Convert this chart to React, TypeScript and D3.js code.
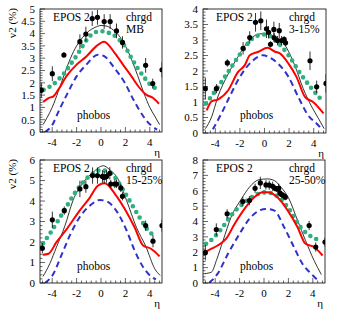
import React from "react";
import * as d3 from "d3";

// ---------- data ----------
const panelTitles = ["MB", "3-15%", "15-25%", "25-50%"];
const yMaxes = [5, 4, 6, 8];

// measured points (phobos)
const ptsEta1 = [-4.89, -3.99, -3.04, -1.73, -1.24, -0.72, -0.29, 0.26, 0.75, 1.27, 1.76, 3.66, 4.24, 5.0];
const ptsV1 = [1.7, 2.37, 3.13, 3.67, 3.98, 4.61, 4.66, 4.49, 4.49, 4.11, 3.64, 2.71, 1.97, 2.53];
const ptsErr1 = [0.3, 0.3, 0.12, 0.3, 0.3, 0.3, 0.3, 0.3, 0.3, 0.3, 0.25, 0.3, 0.2, 0.3];

const ptsEta2 = [-4.81, -3.91, -3.02, -1.74, -1.2, -0.73, -0.3, 0.16, 0.33, 0.49, 0.76, 0.79, 1.06, 1.2, 1.39, 1.6, 1.71, 3.7, 4.24, 5.0];
const ptsV2 = [1.43, 1.43, 2.26, 2.73, 3.08, 3.57, 3.62, 3.36, 3.25, 2.86, 3.34, 3.07, 2.98, 3.3, 2.98, 3.02, 2.91, 2.33, 1.49, 1.6];
const ptsErr2 = [0.35, 0.15, 0.12, 0.2, 0.2, 0.3, 0.3, 0.3, 0.2, 0.1, 0.25, 0.15, 0.15, 0.25, 0.15, 0.1, 0.1, 0.3, 0.2, 0.3];

const ptsEta3 = [-4.81, -3.99, -3.01, -1.73, -1.24, -0.69, -0.29, 0.12, 0.26, 0.45, 0.72, 0.8, 1.13, 1.27, 1.62, 1.76, 3.66, 4.26, 5.0];
const ptsV3 = [1.7, 3.08, 3.53, 4.59, 4.7, 5.24, 5.24, 5.2, 5.15, 5.2, 5.35, 4.83, 4.83, 4.83, 4.64, 4.23, 2.8, 2.04, 2.8];
const ptsErr3 = [0.25, 0.4, 0.2, 0.4, 0.3, 0.4, 0.4, 0.3, 0.3, 0.3, 0.3, 0.2, 0.2, 0.2, 0.2, 0.2, 0.25, 0.3, 0.3];

const ptsEta4 = [-4.81, -3.91, -3.02, -1.74, -1.2, -0.73, -0.3, 0.16, 0.43, 0.71, 0.9, 1.06, 1.2, 1.3, 1.44, 1.6, 1.74, 3.7, 4.24, 5.0];
const ptsV4 = [1.97, 3.48, 4.5, 5.3, 5.36, 6.16, 6.51, 6.38, 6.36, 6.29, 6.16, 6.11, 6.16, 5.86, 5.75, 5.69, 5.58, 3.74, 2.34, 2.66];
const ptsErr4 = [0.5, 0.4, 0.3, 0.3, 0.3, 0.3, 0.4, 0.3, 0.3, 0.3, 0.2, 0.2, 0.3, 0.2, 0.2, 0.2, 0.2, 0.3, 0.3, 0.3];

// EPOS 2 thin black curve
const blackEta1 = [-4.75, -4.4, -4, -3.5, -3, -2.5, -2, -1.5, -1, -0.5, 0, 0.5, 1, 1.5, 2, 2.5, 3, 3.5, 4, 4.4, 4.8];
const blackV1 = [0.3, 0.6, 1.0, 1.65, 2.35, 3.0, 3.5, 3.85, 4.1, 4.25, 4.33, 4.3, 4.15, 3.9, 3.5, 2.95, 2.3, 1.6, 1.0, 0.65, 0.3];
const blackEta2 = [-4.8, -4.3, -3.8, -3, -2.15, -1.35, -0.5, 0.15, 0.85, 1.65, 2.45, 3.15, 3.85, 4.4, 4.85];
const blackV2 = [0.14, 0.52, 1.16, 1.87, 2.46, 2.94, 3.19, 3.21, 3.1, 2.84, 2.19, 1.43, 0.84, 0.46, 0.14];
const blackEta3 = [-4.75, -4.2, -3.65, -2.95, -2.3, -1.45, -0.65, 0.2, 0.7, 1.4, 2.1, 2.9, 3.7, 4.4, 4.85];
const blackV3 = [0.32, 0.94, 1.75, 2.8, 4.02, 4.91, 5.4, 5.72, 5.53, 5.07, 4.02, 2.72, 1.75, 0.7, 0.37];
const blackEta4 = [-4.85, -4.3, -3.9, -3.35, -2.7, -1.85, -1.2, -0.4, 0.3, 0.85, 1.4, 2.05, 2.75, 3.4, 4.1, 4.7];
const blackV4 = [0.61, 0.71, 1.47, 2.77, 4.28, 5.47, 6.23, 6.72, 6.77, 6.66, 6.23, 5.47, 4.07, 2.77, 1.47, 0.55];

// green dotted curve
const greenEta1 = [-4.7, -4.4, -4, -3.5, -3, -2.5, -2, -1.5, -1, -0.5, 0, 0.5, 1, 1.5, 2, 2.5, 3, 3.5, 4, 4.4, 4.7];
const greenV1 = [1.72, 1.8, 1.9, 2.13, 2.4, 2.75, 3.1, 3.5, 3.85, 4.05, 4.1, 4.05, 3.95, 3.75, 3.45, 3.0, 2.6, 2.25, 1.95, 1.8, 1.72];
const greenEta2 = [-4.75, -4.05, -2.95, -1.85, -0.8, 0.05, 0.85, 1.95, 3.0, 3.85, 4.65];
const greenV2 = [0.95, 1.33, 1.97, 2.62, 3.1, 3.18, 3.0, 2.51, 1.87, 1.43, 1.06];
const greenEta3 = [-4.75, -4.2, -3.1, -2.0, -0.9, 0.05, 1.0, 2.1, 3.15, 4.0, 4.55];
const greenV3 = [1.94, 2.4, 3.45, 4.51, 5.24, 5.51, 5.24, 4.26, 3.21, 2.48, 2.27];
const greenEta4 = [-4.75, -4.2, -3.5, -2.7, -1.6, -0.5, 0.15, 1.0, 1.95, 3.0, 3.95, 4.65];
const greenV4 = [2.55, 2.88, 3.52, 4.39, 5.25, 5.79, 5.9, 5.69, 4.93, 3.63, 2.98, 2.77];

// red solid curve
const redEta1 = [-4.75, -4.3, -3.9, -3.5, -2.8, -2, -1.2, -0.4, 0.25, 1.1, 1.8, 2.5, 3.05, 3.7, 4.25, 4.75];
const redV1 = [1.22, 1.38, 1.45, 1.72, 2.29, 2.74, 3.07, 3.48, 3.67, 3.23, 2.74, 2.26, 1.86, 1.52, 1.39, 1.15];
const redEta2 = [-4.7, -4.3, -3.8, -2.95, -2.15, -1.6, -1.2, -0.5, 0.25, 0.85, 1.25, 1.95, 2.6, 3.3, 3.95, 4.8];
const redV2 = [0.73, 1.02, 1.08, 1.38, 1.97, 2.19, 2.51, 2.62, 2.75, 2.62, 2.57, 2.24, 1.81, 1.16, 1.0, 0.63];
const redEta3 = [-4.78, -4.3, -3.65, -2.8, -1.75, -0.9, -0.25, 0.3, 1.15, 1.95, 2.75, 3.45, 4.1, 4.8];
const redV3 = [1.38, 1.43, 1.99, 2.64, 3.53, 4.18, 4.75, 4.86, 4.34, 3.61, 2.72, 1.83, 1.67, 1.3];
const redEta4 = [-4.85, -4.3, -3.8, -3.1, -2.4, -1.6, -0.8, -0.1, 0.3, 1.1, 1.95, 2.75, 3.4, 4.1, 4.8];
const redV4 = [2.01, 2.23, 2.44, 2.88, 3.85, 4.82, 5.58, 5.9, 5.9, 5.58, 4.71, 3.63, 2.55, 2.34, 1.79];

// blue dashed curve
const blueEta1 = [-4.6, -4.05, -3.4, -2.8, -2, -1.2, -0.25, 0.2, 1.1, 1.95, 2.65, 3.45, 4.1, 4.6];
const blueV1 = [0.0, 0.24, 0.92, 1.52, 2.26, 2.74, 3.14, 3.1, 2.6, 2.0, 1.32, 0.65, 0.27, 0.1];
const blueEta2 = [-4.2, -3.5, -2.85, -2, -1.05, -0.1, 0.3, 1.1, 1.95, 2.75, 3.55, 4.25, 4.7];
const blueV2 = [0.12, 0.63, 1.16, 1.81, 2.3, 2.51, 2.46, 2.24, 1.81, 1.16, 0.57, 0.3, 0.1];
const blueEta3 = [-4.6, -3.9, -3.25, -2.55, -1.75, -0.9, -0.1, 0.45, 1.25, 2.1, 2.75, 3.45, 4.1, 4.5];
const blueV3 = [0.0, 0.45, 1.35, 2.32, 3.21, 3.78, 4.05, 3.99, 3.53, 2.56, 1.59, 0.78, 0.32, 0.18];
const blueEta4 = [-4.5, -3.8, -2.95, -2.0, -1.2, -0.4, 0.15, 0.85, 1.65, 2.45, 3.15, 3.85, 4.5];
const blueV4 = [0.0, 0.61, 1.9, 3.2, 4.17, 4.71, 4.82, 4.71, 3.63, 2.34, 1.25, 0.61, 0.12];

const xTicks = [-4, -2, 0, 2, 4];

const panels = [
  { pe: ptsEta1, pv: ptsV1, perr: ptsErr1, be: blackEta1, bv: blackV1, ge: greenEta1, gv: greenV1, re: redEta1, rv: redV1, ue: blueEta1, uv: blueV1 },
  { pe: ptsEta2, pv: ptsV2, perr: ptsErr2, be: blackEta2, bv: blackV2, ge: greenEta2, gv: greenV2, re: redEta2, rv: redV2, ue: blueEta2, uv: blueV2 },
  { pe: ptsEta3, pv: ptsV3, perr: ptsErr3, be: blackEta3, bv: blackV3, ge: greenEta3, gv: greenV3, re: redEta3, rv: redV3, ue: blueEta3, uv: blueV3 },
  { pe: ptsEta4, pv: ptsV4, perr: ptsErr4, be: blackEta4, bv: blackV4, ge: greenEta4, gv: greenV4, re: redEta4, rv: redV4, ue: blueEta4, uv: blueV4 },
];

const frames = [
  { x0: 40, x1: 162, y0: 9, y1: 132 },
  { x0: 203, x1: 326, y0: 9, y1: 133 },
  { x0: 40, x1: 162, y0: 160, y1: 283 },
  { x0: 203, x1: 325, y0: 160, y1: 283 },
];

const FONT = "'Liberation Serif', 'DejaVu Serif', serif";

function Panel({ idx }: { idx: number }) {
  const f = frames[idx];
  const d = panels[idx];
  const yMax = yMaxes[idx];
  const x = d3.scaleLinear().domain([-5, 5]).range([f.x0, f.x1]);
  const y = d3.scaleLinear().domain([0, yMax]).range([f.y1, f.y0]);
  const mk = (es: number[], vs: number[]) =>
    d3.line<number>().x((_, i) => x(es[i])).y((_, i) => y(vs[i])).curve(d3.curveMonotoneX)(vs) || "";
  const yStep = yMax <= 5 ? 0.5 : 1;
  const yMinor = yMax <= 5 ? 0.1 : 0.2;
  const yLabels = d3.range(0, yMax + 1e-9, yStep);
  const yMinors = d3.range(0, yMax + 1e-9, yMinor);
  const xMinors = d3.range(-4.8, 5.0, 0.4);
  const clipId = `clip${idx}`;
  const fmt = (v: number) => (Number.isInteger(v) ? String(v) : v.toFixed(1));
  const tx = f.x0;
  const txR = f.x0 + 86;
  return (
    <g>
      <defs>
        <clipPath id={clipId}>
          <rect x={f.x0} y={f.y0} width={f.x1 - f.x0} height={f.y1 - f.y0} />
        </clipPath>
      </defs>
      {/* ticks */}
      {yMinors.map((v, i) => {
        const isMajor = Math.abs(v / yStep - Math.round(v / yStep)) < 1e-6;
        return <line key={"ym" + i} x1={f.x0} x2={f.x0 + (isMajor ? 5 : 2.5)} y1={y(v)} y2={y(v)} stroke="#000" strokeWidth={0.6} />;
      })}
      {xMinors.map((v, i) => {
        const isMajor = Math.abs(v / 2 - Math.round(v / 2)) < 1e-6;
        return <line key={"xm" + i} x1={x(v)} x2={x(v)} y1={f.y1} y2={f.y1 - (isMajor ? 5 : 2.5)} stroke="#000" strokeWidth={0.6} />;
      })}
      {yLabels.map((v, i) => (
        <text key={"yl" + i} x={f.x0 - 5} y={y(v) + 3.8} textAnchor="end" fontSize={11} fontFamily={FONT}>{fmt(v)}</text>
      ))}
      {xTicks.map((v, i) => (
        <text key={"xl" + i} x={x(v)} y={f.y1 + 14} textAnchor="middle" fontSize={11} fontFamily={FONT}>{fmt(v)}</text>
      ))}
      <text x={f.x1 - 2} y={f.y1 + 24} textAnchor="end" fontSize={11} fontFamily={FONT}>η</text>
      {idx % 2 === 0 && (
        <text transform={`translate(${f.x0 - 24},${f.y0 - 1}) rotate(-90)`} textAnchor="end" fontSize={11} fontFamily={FONT}>v2  (%)</text>
      )}
      <g clipPath={`url(#${clipId})`}>
        <path d={mk(d.be, d.bv)} fill="none" stroke="#000" strokeWidth={0.8} />
        <path d={mk(d.ge, d.gv)} fill="none" stroke="#2fae7e" strokeWidth={4.6} strokeDasharray="0 6.6" strokeLinecap="round" />
        <path d={mk(d.re, d.rv)} fill="none" stroke="#ff0000" strokeWidth={2} />
        <path d={mk(d.ue, d.uv)} fill="none" stroke="#3030c8" strokeWidth={2} strokeDasharray="6 4" />
        {d.pe.map((e, i) => (
          <g key={"p" + i}>
            <line x1={x(e)} x2={x(e)} y1={y(d.pv[i] - d.perr[i])} y2={y(d.pv[i] + d.perr[i])} stroke="#000" strokeWidth={0.8} />
            <circle cx={x(e)} cy={y(d.pv[i])} r={2.6} fill="#000" />
          </g>
        ))}
      </g>
      <rect x={f.x0} y={f.y0} width={f.x1 - f.x0} height={f.y1 - f.y0} fill="none" stroke="#000" strokeWidth={0.8} />
      <text x={tx + 13} y={f.y0 + 11.5} fontSize={11.5} fontFamily={FONT}>EPOS 2</text>
      <text x={txR} y={f.y0 + 11.5} fontSize={11.5} fontFamily={FONT}>chrgd</text>
      <text x={txR} y={f.y0 + 24} fontSize={11.5} fontFamily={FONT}>{panelTitles[idx]}</text>
      <text x={tx + 37} y={f.y0 + 110} fontSize={11.5} fontFamily={FONT}>phobos</text>
    </g>
  );
}

export default function App() {
  return (
    <svg width={356} height={314} style={{ position: "absolute", left: 0, top: 0, background: "#fff" }}>
      <rect width={356} height={314} fill="#fff" />
      {[0, 1, 2, 3].map((i) => (
        <Panel key={i} idx={i} />
      ))}
    </svg>
  );
}
